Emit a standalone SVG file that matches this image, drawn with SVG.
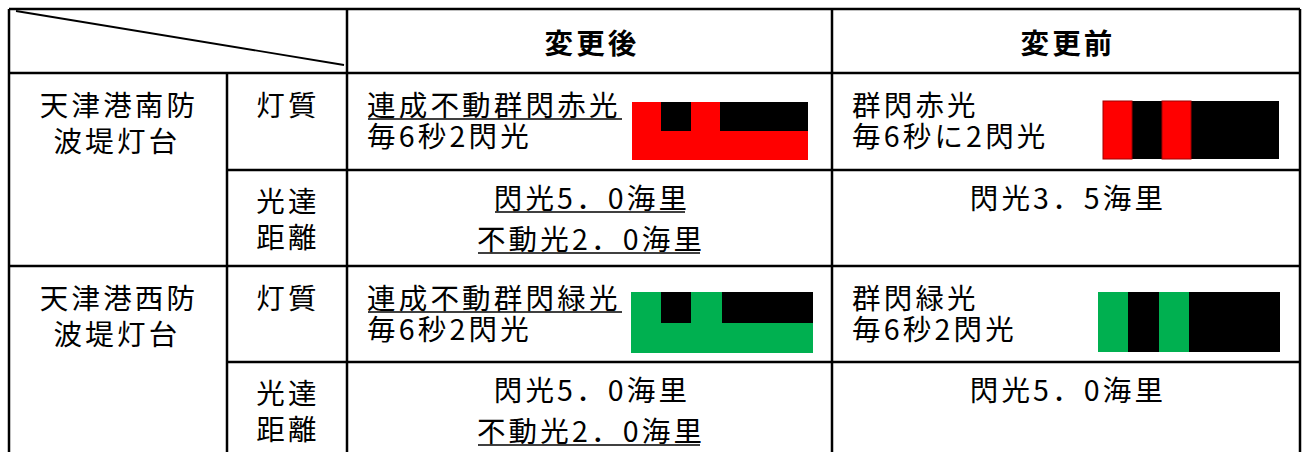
<svg xmlns="http://www.w3.org/2000/svg" width="1306" height="452" viewBox="0 0 1306 452">
<style>
.t{font-family:"Noto Sans CJK JP","Noto Sans CJK SC",sans-serif;font-size:28.5px;letter-spacing:3.2px;fill:#000}
.h{font-weight:bold}
.m{text-anchor:middle}
.g{stroke:#000;stroke-width:2.5;fill:none}
.u{stroke:#000;stroke-width:1.5}
.k{fill:#000}
.r{fill:#FF0000}
.gr{fill:#00B050}
</style>
<rect x="0" y="0" width="1306" height="452" fill="#fff"/>
<g id="grid">
<line class="g" x1="9" y1="9" x2="1300" y2="9"/>
<line class="g" x1="9" y1="9" x2="9" y2="452"/>
<line class="g" x1="1300" y1="9" x2="1300" y2="452"/>
<line class="g" x1="347" y1="9" x2="347" y2="452"/>
<line class="g" x1="832" y1="9" x2="832" y2="452"/>
<line class="g" x1="227" y1="73" x2="227" y2="452"/>
<line class="g" x1="9" y1="73" x2="1300" y2="73"/>
<line class="g" x1="227" y1="170" x2="1300" y2="170"/>
<line class="g" x1="9" y1="266" x2="1300" y2="266"/>
<line class="g" x1="227" y1="362" x2="1300" y2="362"/>
<line x1="16" y1="11" x2="344" y2="65" stroke="#000" stroke-width="1.8"/>
</g>
<g id="header">
<text class="t h m" x="592" y="54">変更後</text>
<text class="t h m" x="1068" y="54">変更前</text>
</g>
<g id="south-name">
<text class="t m" x="119" y="116">天津港南防<tspan x="117" y="152">波堤灯台</tspan></text>
</g>
<g id="south-char-label">
<text class="t m" x="288" y="116">灯質</text>
</g>
<g id="south-range-label">
<text class="t m" x="288" y="212">光達<tspan x="288" y="248">距離</tspan></text>
</g>
<g id="south-char-after">
<text class="t" x="367" y="116">連成不動群閃赤光<tspan x="367" y="147">毎6秒2閃光</tspan></text>
<line class="u" x1="368" y1="119" x2="622" y2="119"/>
<rect class="r" x="632" y="102" width="176" height="58"/>
<rect class="k" x="661" y="102" width="30" height="29"/>
<rect class="k" x="720" y="102" width="88" height="29"/>
</g>
<g id="south-char-before">
<text class="t" x="852" y="116">群閃赤光<tspan x="852" y="147">毎6秒に2閃光</tspan></text>
<rect class="k" x="1103" y="101" width="176" height="58"/>
<rect class="r" x="1103" y="101" width="29" height="58" stroke="#A00000" stroke-width="1"/>
<rect class="r" x="1162" y="101" width="29" height="58" stroke="#A00000" stroke-width="1"/>
</g>
<g id="south-range-after">
<text class="t m" x="592" y="209">閃光5．0海里<tspan x="591" y="250">不動光2．0海里</tspan></text>
<line class="u" x1="495" y1="212" x2="685" y2="212"/>
<line class="u" x1="478" y1="253" x2="700" y2="253"/>
</g>
<g id="south-range-before">
<text class="t m" x="1068" y="209">閃光3．5海里</text>
</g>
<g id="west-name">
<text class="t m" x="119" y="309">天津港西防<tspan x="117" y="345">波堤灯台</tspan></text>
</g>
<g id="west-char-label">
<text class="t m" x="288" y="309">灯質</text>
</g>
<g id="west-range-label">
<text class="t m" x="288" y="404">光達<tspan x="288" y="440">距離</tspan></text>
</g>
<g id="west-char-after">
<text class="t" x="367" y="309">連成不動群閃緑光<tspan x="367" y="340">毎6秒2閃光</tspan></text>
<line class="u" x1="368" y1="312" x2="622" y2="312"/>
<rect class="gr" x="631" y="292" width="182" height="61"/>
<rect class="k" x="661" y="292" width="30" height="31"/>
<rect class="k" x="722" y="292" width="91" height="31"/>
</g>
<g id="west-char-before">
<text class="t" x="852" y="309">群閃緑光<tspan x="852" y="340">毎6秒2閃光</tspan></text>
<rect class="k" x="1098" y="292" width="182" height="60"/>
<rect class="gr" x="1098" y="292" width="30" height="60"/>
<rect class="gr" x="1159" y="292" width="30" height="60"/>
</g>
<g id="west-range-after">
<text class="t m" x="592" y="401">閃光5．0海里<tspan x="591" y="442">不動光2．0海里</tspan></text>
<line class="u" x1="478" y1="445" x2="700" y2="445"/>
</g>
<g id="west-range-before">
<text class="t m" x="1068" y="401">閃光5．0海里</text>
</g>
</svg>
